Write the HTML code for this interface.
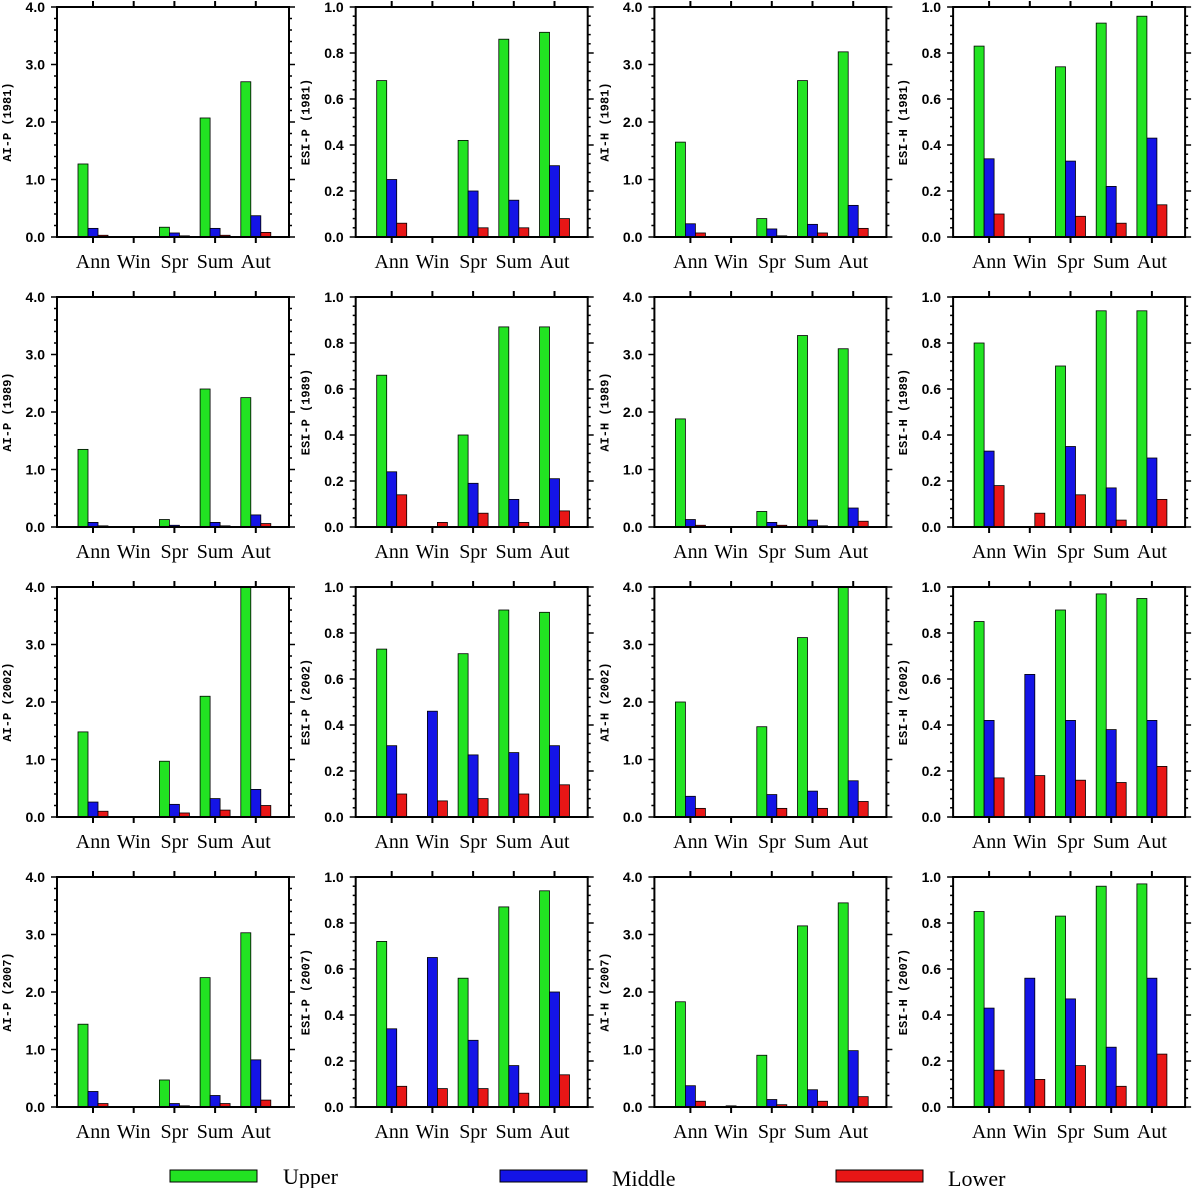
<!DOCTYPE html>
<html><head><meta charset="utf-8"><style>
body{margin:0;background:#fff;}
svg{display:block;}
</style></head><body>
<svg id="chart" width="1193" height="1188" xmlns="http://www.w3.org/2000/svg">
<g id="legend">
<g><rect x="170" y="1170" width="87" height="12" fill="#22e322" stroke="#000"/><text x="283" y="1184" font-family="Liberation Serif, serif" font-size="22">Upper</text></g>
<g><rect x="500" y="1170" width="87" height="12" fill="#1414e6" stroke="#000"/><text x="612" y="1186" font-family="Liberation Serif, serif" font-size="22">Middle</text></g>
<g><rect x="836" y="1170" width="87" height="12" fill="#e81616" stroke="#000"/><text x="948" y="1186" font-family="Liberation Serif, serif" font-size="22">Lower</text></g>
</g>
</svg>
<script>
const categories=["Ann","Win","Spr","Sum","Aut"];
const seriesNames=["Upper","Middle","Lower"];
const years=["1981","1989","2002","2007"];
const indices=["AI-P","ESI-P","AI-H","ESI-H"];
const yMaxByIndex=[4,1,4,1];
const aiP1981=[[1.27,0,0.17,2.07,2.7],[0.15,0,0.07,0.15,0.37],[0.03,0,0.02,0.03,0.08]];
const esiP1981=[[0.68,0,0.42,0.86,0.89],[0.25,0,0.2,0.16,0.31],[0.06,0,0.04,0.04,0.08]];
const aiH1981=[[1.65,0,0.32,2.72,3.22],[0.23,0,0.14,0.22,0.55],[0.07,0,0.02,0.07,0.15]];
const esiH1981=[[0.83,0,0.74,0.93,0.96],[0.34,0,0.33,0.22,0.43],[0.1,0,0.09,0.06,0.14]];
const aiP1989=[[1.35,0,0.13,2.4,2.25],[0.08,0.01,0.03,0.08,0.21],[0.02,0.01,0.01,0.02,0.06]];
const esiP1989=[[0.66,0,0.4,0.87,0.87],[0.24,0,0.19,0.12,0.21],[0.14,0.02,0.06,0.02,0.07]];
const aiH1989=[[1.88,0,0.27,3.33,3.1],[0.13,0,0.08,0.12,0.33],[0.03,0,0.03,0.02,0.1]];
const esiH1989=[[0.8,0,0.7,0.94,0.94],[0.33,0,0.35,0.17,0.3],[0.18,0.06,0.14,0.03,0.12]];
const aiP2002=[[1.48,0,0.97,2.1,4.0],[0.26,0,0.22,0.32,0.48],[0.1,0,0.07,0.12,0.2]];
const esiP2002=[[0.73,0,0.71,0.9,0.89],[0.31,0.46,0.27,0.28,0.31],[0.1,0.07,0.08,0.1,0.14]];
const aiH2002=[[2.0,0,1.57,3.12,4.0],[0.36,0,0.39,0.45,0.63],[0.15,0,0.15,0.15,0.27]];
const esiH2002=[[0.85,0,0.9,0.97,0.95],[0.42,0.62,0.42,0.38,0.42],[0.17,0.18,0.16,0.15,0.22]];
const aiP2007=[[1.44,0,0.47,2.25,3.03],[0.27,0,0.06,0.2,0.82],[0.06,0,0.02,0.06,0.12]];
const esiP2007=[[0.72,0,0.56,0.87,0.94],[0.34,0.65,0.29,0.18,0.5],[0.09,0.08,0.08,0.06,0.14]];
const aiH2007=[[1.83,0,0.9,3.15,3.55],[0.37,0.02,0.13,0.3,0.98],[0.1,0,0.04,0.1,0.18]];
const esiH2007=[[0.85,0,0.83,0.96,0.97],[0.43,0.56,0.47,0.26,0.56],[0.16,0.12,0.18,0.09,0.23]];
const values=[[aiP1981,esiP1981,aiH1981,esiH1981],[aiP1989,esiP1989,aiH1989,esiH1989],[aiP2002,esiP2002,aiH2002,esiH2002],[aiP2007,esiP2007,aiH2007,esiH2007]];
const ticks4=["0.0","1.0","2.0","3.0","4.0"];
const ticks1=["0.0","0.2","0.4","0.6","0.8","1.0"];

const NS="http://www.w3.org/2000/svg";
const svg=document.getElementById('chart');
const colors=["#22e322","#1414e6","#e81616"];
function mk(tag,attrs,parent){const e=document.createElementNS(NS,tag);for(const k in attrs)e.setAttribute(k,attrs[k]);parent.appendChild(e);return e;}
const W=232,H=230,bw=10,step=40.7;
for(let r=0;r<4;r++){for(let c=0;c<4;c++){
  const L=57+c*298.7,T=7+r*290,B=T+H,R=L+W;
  const ymax=yMaxByIndex[c];
  const ticks=ymax===4?ticks4:ticks1;
  const ys=v=>B-v/ymax*H;
  const xs=i=>L+36+i*step;
  const g=mk('g',{},svg);
  
  
  for(let s=0;s<3;s++){const arr=values[r][c][s];for(let i=0;i<5;i++){const v=arr[i];if(v<=0)continue;
    const b=mk('rect',{x:xs(i)+(s-1)*bw-bw/2,y:ys(v),width:bw,height:B-ys(v),fill:colors[s],stroke:'#000','stroke-width':0.8},g);
    
    }}
  const f=mk('rect',{x:L,y:T,width:W,height:H,fill:'none',stroke:'#000','stroke-width':2},g);
  
  
  const nMaj=ticks.length-1;
  for(let k=0;k<=nMaj*5;k++){const v=k/(nMaj*5)*ymax;const y=ys(v);const maj=k%5===0;const len=maj?6:3;
    mk('line',{x1:L-len,y1:y,x2:L,y2:y,stroke:'#000','stroke-width':1.5},g);
    mk('line',{x1:R,y1:y,x2:R+len,y2:y,stroke:'#000','stroke-width':1.5},g);}
  for(let k=0;k<=nMaj;k++){const t=mk('text',{x:L-12,y:ys(k/nMaj*ymax)+5,'text-anchor':'end','font-family':'Liberation Sans, sans-serif','font-weight':'bold','font-size':14},g);t.textContent=ticks[k];
    
    }
  for(let i=0;i<5;i++){const x=xs(i);
    mk('line',{x1:x,y1:T-6,x2:x,y2:T,stroke:'#000','stroke-width':2},g);
    mk('line',{x1:x,y1:B,x2:x,y2:B+6,stroke:'#000','stroke-width':2},g);
    const t=mk('text',{x:x,y:B+31,'text-anchor':'middle','font-family':'Liberation Serif, serif','font-size':20},g);t.textContent=categories[i];
    
    }
  const cx=L-46,cy=(T+B)/2;
  const yt=mk('text',{x:cx,y:cy,transform:'rotate(-90 '+cx+' '+cy+')','text-anchor':'middle','font-family':'Liberation Mono, monospace','font-weight':'bold','font-size':12},g);
  yt.textContent=indices[c]+' ('+years[r]+')';
  
  
}}
</script>
</body></html>
